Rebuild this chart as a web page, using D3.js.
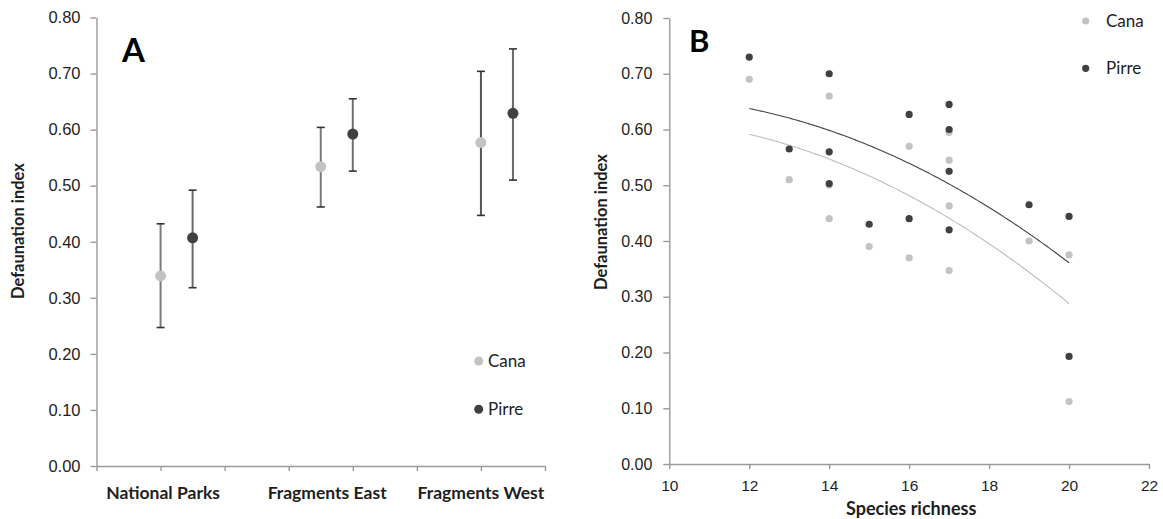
<!DOCTYPE html>
<html>
<head>
<meta charset="utf-8">
<script src="https://cdn.jsdelivr.net/npm/d3@7"></script>
<style>
  html, body { margin: 0; padding: 0; background: #fff; }
  svg { display: block; font-family: Lato, "Open Sans", sans-serif; }
</style>
</head>
<body>
<svg id="chart" width="1163" height="519"></svg>
<script>
// ---------- Data ----------
const seriesNames = ["Cana", "Pirre"];
const seriesColors = ["#c3c3c3", "#404040"];

// Panel A
const categories = ["National Parks", "Fragments East", "Fragments West"];
const categoryCenters = [1.04, 3.6, 6.0];
const canaPosA = [1, 3.5, 6];
const pirrePosA = [1.5, 4, 6.5];
const canaMeanA = [0.339, 0.534, 0.577];
const canaLowA = [0.247, 0.462, 0.447];
const canaHighA = [0.432, 0.604, 0.704];
const pirreMeanA = [0.407, 0.592, 0.629];
const pirreLowA = [0.318, 0.526, 0.510];
const pirreHighA = [0.492, 0.655, 0.744];
const barColorsCanaA = ["#7a7a7a", "#7a7a7a", "#555555"];
const barColorsPirreA = ["#6a6a6a", "#707070", "#6a6a6a"];

// Panel B
const canaRichness = [12, 13, 14, 14, 14, 15, 16, 16, 17, 17, 17, 17, 19, 20, 20];
const canaIndex = [0.69, 0.51, 0.66, 0.50, 0.44, 0.39, 0.57, 0.37, 0.595, 0.545, 0.463, 0.347, 0.40, 0.375, 0.112];
const pirreRichness = [12, 13, 14, 14, 14, 15, 16, 16, 17, 17, 17, 17, 19, 20, 20];
const pirreIndex = [0.73, 0.565, 0.70, 0.56, 0.503, 0.43, 0.627, 0.44, 0.645, 0.60, 0.525, 0.42, 0.465, 0.444, 0.193];

const yTicks = [0, 0.1, 0.2, 0.3, 0.4, 0.5, 0.6, 0.7, 0.8];
const xTicksB = [10, 12, 14, 16, 18, 20, 22];

// ---------- Helpers ----------
const svg = d3.select("#chart");
const axisColor = "#9a9a9a";
const textColor = "#1e1e1e";

function styleAxis(g, size) {
  g.select(".domain").attr("stroke", axisColor).attr("stroke-width", 1.4);
  g.selectAll(".tick line").attr("stroke", axisColor).attr("stroke-width", 1.4);
  g.selectAll(".tick text").attr("fill", textColor).style("font-size", size);
}

// quadratic least squares fit
function polyfit2(xs, ys) {
  let S = [0, 0, 0, 0, 0], T = [0, 0, 0];
  xs.forEach((x, i) => {
    let p = 1;
    for (let k = 0; k < 5; k++) { S[k] += p; if (k < 3) T[k] += p * ys[i]; p *= x; }
  });
  const M = [[S[0], S[1], S[2], T[0]], [S[1], S[2], S[3], T[1]], [S[2], S[3], S[4], T[2]]];
  for (let c = 0; c < 3; c++) {
    for (let r = c + 1; r < 3; r++) {
      const f = M[r][c] / M[c][c];
      for (let k = c; k < 4; k++) M[r][k] -= f * M[c][k];
    }
  }
  const coef = [0, 0, 0];
  for (let r = 2; r >= 0; r--) {
    let s = M[r][3];
    for (let k = r + 1; k < 3; k++) s -= M[r][k] * coef[k];
    coef[r] = s / M[r][r];
  }
  return x => coef[0] + coef[1] * x + coef[2] * x * x;
}

// ---------- Panel A ----------
const xA = d3.scaleLinear().domain([0, 7]).range([96.5, 545]);
const yA = d3.scaleLinear().domain([0, 0.8]).range([466, 17.5]);

const gAy = svg.append("g").attr("transform", `translate(${xA(0)},0)`)
  .call(d3.axisLeft(yA).tickValues(yTicks).tickFormat(d3.format(".2f")).tickSize(6).tickSizeOuter(0).tickPadding(10));
styleAxis(gAy, "16.5px");

const gAx = svg.append("g").attr("transform", `translate(0,${yA(0)})`)
  .call(d3.axisBottom(xA).tickValues(d3.range(0, 8)).tickFormat("").tickSize(5).tickSizeOuter(0));
styleAxis(gAx, "16px");

svg.append("g").selectAll("text").data(categories).join("text")
  .attr("x", (d, i) => xA(categoryCenters[i]))
  .attr("y", 499)
  .attr("text-anchor", "middle")
  .attr("fill", textColor)
  .style("font-size", "17.5px").style("font-weight", "bold")
  .text(d => d);

svg.append("text")
  .attr("transform", `translate(24,231) rotate(-90)`)
  .attr("text-anchor", "middle")
  .attr("fill", textColor)
  .style("font-size", "16.5px").style("font-weight", "bold")
  .text("Defaunation index");

svg.append("text").attr("x", 122).attr("y", 62)
  .attr("fill", "#000").style("font-size", "33px").style("font-weight", "bold").text("A");

function drawErrorSeries(pos, mean, low, high, barColors, color) {
  const g = svg.append("g");
  pos.forEach((p, i) => {
    const x = xA(p);
    g.append("line").attr("x1", x).attr("x2", x).attr("y1", yA(low[i])).attr("y2", yA(high[i]))
      .attr("stroke", barColors[i]).attr("stroke-width", 2);
    [low[i], high[i]].forEach(v => {
      g.append("line").attr("x1", x - 4).attr("x2", x + 4).attr("y1", yA(v)).attr("y2", yA(v))
        .attr("stroke", "#333").attr("stroke-width", 1.6);
    });
  });
  g.selectAll("circle").data(mean).join("circle")
    .attr("cx", (d, i) => xA(pos[i])).attr("cy", d => yA(d)).attr("r", 5.5).attr("fill", color);
}
drawErrorSeries(canaPosA, canaMeanA, canaLowA, canaHighA, barColorsCanaA, seriesColors[0]);
drawErrorSeries(pirrePosA, pirreMeanA, pirreLowA, pirreHighA, barColorsPirreA, seriesColors[1]);

// Legend A
const legA = svg.append("g");
seriesNames.forEach((n, i) => {
  legA.append("circle").attr("cx", 478.7).attr("cy", 361 + i * 48.3).attr("r", 4.5).attr("fill", seriesColors[i]);
  legA.append("text").attr("x", 488).attr("y", 361 + i * 48.3).attr("dy", "0.35em")
    .attr("fill", textColor).style("font-size", "17px").text(n);
});

// ---------- Panel B ----------
const xB = d3.scaleLinear().domain([10, 22]).range([669.3, 1149]);
const yB = d3.scaleLinear().domain([0, 0.8]).range([464, 18]);

const gBy = svg.append("g").attr("transform", `translate(${xB(10)},0)`)
  .call(d3.axisLeft(yB).tickValues(yTicks).tickFormat(d3.format(".2f")).tickSize(6).tickSizeOuter(0).tickPadding(11));
styleAxis(gBy, "16px");

const gBx = svg.append("g").attr("transform", `translate(0,${yB(0)})`)
  .call(d3.axisBottom(xB).tickValues(xTicksB).tickFormat(d3.format("d")).tickSize(5).tickSizeOuter(0).tickPadding(11));
styleAxis(gBx, "15.5px");

svg.append("text")
  .attr("transform", `translate(607,222) rotate(-90)`)
  .attr("text-anchor", "middle")
  .attr("fill", textColor)
  .style("font-size", "16.5px").style("font-weight", "bold")
  .text("Defaunation index");

svg.append("text")
  .attr("x", xB(16) + 2).attr("y", 515)
  .attr("text-anchor", "middle")
  .attr("fill", textColor)
  .style("font-size", "18px").style("font-weight", "bold")
  .text("Species richness");

svg.append("text").attr("x", 689).attr("y", 52)
  .attr("fill", "#000").style("font-size", "31px").style("font-weight", "bold").text("B");

// Trend lines
function drawTrend(xs, ys, color, width) {
  const f = polyfit2(xs, ys);
  const pts = d3.range(d3.min(xs), d3.max(xs) + 0.001, 0.05).map(x => [x, f(x)]);
  svg.append("path").datum(pts)
    .attr("d", d3.line().x(d => xB(d[0])).y(d => yB(d[1])))
    .attr("fill", "none").attr("stroke", color).attr("stroke-width", width);
}
drawTrend(canaRichness, canaIndex, "#bdbdbd", 1.1);
drawTrend(pirreRichness, pirreIndex, "#444", 1.1);

// Points
svg.append("g").selectAll("circle").data(canaIndex).join("circle")
  .attr("cx", (d, i) => xB(canaRichness[i])).attr("cy", d => yB(d)).attr("r", 3.6).attr("fill", seriesColors[0]);
svg.append("g").selectAll("circle").data(pirreIndex).join("circle")
  .attr("cx", (d, i) => xB(pirreRichness[i])).attr("cy", d => yB(d)).attr("r", 3.6).attr("fill", seriesColors[1]);

// Legend B
const legB = svg.append("g");
seriesNames.forEach((n, i) => {
  legB.append("circle").attr("cx", 1085.7).attr("cy", 21 + i * 47.3).attr("r", 3.6).attr("fill", seriesColors[i]);
  legB.append("text").attr("x", 1106).attr("y", 21 + i * 47.3).attr("dy", "0.35em")
    .attr("fill", textColor).style("font-size", "17px").text(n);
});
</script>
</body>
</html>
